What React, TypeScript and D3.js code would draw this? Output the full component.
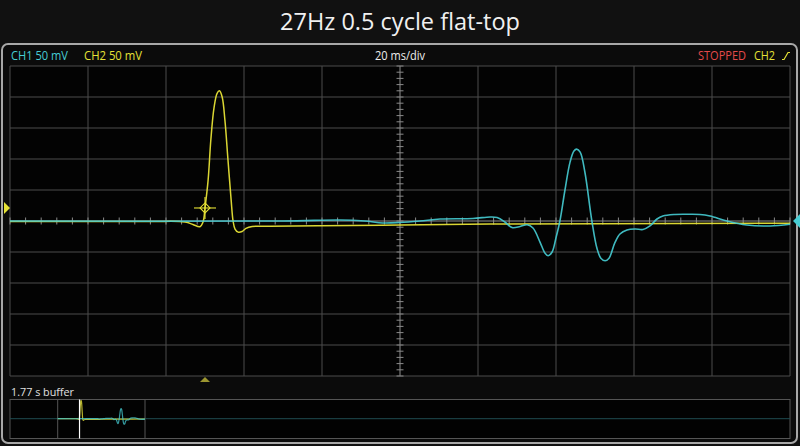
import React, { useEffect } from "react";
import * as d3 from "d3";

// ---- data (time in ms relative to screen centre, voltage in mV) ----
const ch2Time = [-100, -64.1, -55.1, -53.1, -51.3, -50.5, -50.0, -49.2, -48.5, -47.7, -46.9, -46.3, -45.6, -44.9, -44.1, -43.3, -42.8, -42.3, -41.5, -40.5, -39.5, -37.9, -33.3, -20.5, 0, 23.1, 51.3, 100];
const ch2Volt = [-0.8, -0.8, -1.6, -5.6, -9.2, -1.6, 21, 66, 131, 182, 206, 210, 200, 163, 98, 34, 0, -13, -18, -17, -12, -8.9, -8.4, -7.7, -6.5, -4.8, -4.5, -3.7];

const ch1Time = [-100, -30, -15.4, -9, -4.4, 0, 5.1, 10.3, 18.7, 23.1, 24.9, 26.9, 28.7, 30.8, 32.6, 34.1, 35.9, 37.2, 38, 39, 40, 41, 42.3, 43.6, 44.6, 45.3, 46.2, 47.4, 49.2, 50.5, 51.5, 52.6, 53.6, 55.1, 56.4, 58.2, 60.3, 62.3, 64.1, 65.9, 67.4, 70.5, 73.6, 76.9, 79.5, 83.8, 88.9, 94.9, 100];
const ch1Volt = [0, 0, 1.6, 0, -3.2, -2.4, 0, 3.2, 4, 6.5, 5.6, -1.6, -10.5, -8.9, -6, -11.3, -34, -52, -56, -50, -27, 0, 50, 95, 113, 116, 111, 79, 0, -44, -60, -64, -60, -35, -21, -14.5, -12.9, -13.7, -8, 3.2, 8, 10.5, 10.8, 10.5, 8, 0, -6.5, -8, -5.3];

const titleText = "27Hz 0.5 cycle flat-top";
const ch1Label = "CH1 50 mV";
const ch2Label = "CH2 50 mV";
const timebaseLabel = "20 ms/div";
const stateLabel = "STOPPED";
const trigLabel = "CH2";
const bufferLabel = "1.77 s buffer";
const triggerTime = -50;
const triggerLevel = 21;
const ch1Offset = 0;

const CYAN = "#46cdd4";
const YELLOW = "#e6e236";

export default function App() {
  useEffect(() => {
    document.body.style.margin = "0";
    document.body.style.background = "#111111";
  }, []);

  const x = d3.scaleLinear().domain([-100, 100]).range([10, 790]);
  const y = d3.scaleLinear().domain([-250, 250]).range([376, 66]);

  const bx = d3.scaleLinear().domain([-100, 100]).range([57.7, 145]);
  const by = d3.scaleLinear().domain([-250, 250]).range([418.7 + 21.7, 418.7 - 21.7]);

  const ch1 = ch1Time.map((t, i) => [t, ch1Volt[i]] as [number, number]);
  const ch2 = ch2Time.map((t, i) => [t, ch2Volt[i]] as [number, number]);

  const line = d3.line<[number, number]>().x(d => x(d[0])).y(d => y(d[1])).curve(d3.curveCatmullRom.alpha(0.5));
  const bline = d3.line<[number, number]>().x(d => bx(d[0])).y(d => by(d[1])).curve(d3.curveCatmullRom.alpha(0.5));

  const vGrid = d3.range(-100, 100.1, 20);
  const hGrid = d3.range(-250, 250.1, 50);
  const xMinor = d3.range(-100, 100.1, 4);
  const yMinor = d3.range(-250, 250.1, 10);

  const tx = x(triggerTime);
  const ty = y(triggerLevel);
  const ff = "'Open Sans', 'Noto Sans', sans-serif";

  return (
    <svg width={800} height={446} style={{ position: "absolute", left: 0, top: 0, display: "block" }}>
      <rect x={0} y={0} width={800} height={446} fill="#111111" />
      <text x={400} y={30} textAnchor="middle" fill="#f0f0f0" fontFamily={ff} fontSize={23} textLength={240} lengthAdjust="spacingAndGlyphs">{titleText}</text>

      {/* frame */}
      <rect x={2} y={44} width={795} height={399} rx={6} fill="#0b0b0b" stroke="#a8a8a8" strokeWidth={2} />

      {/* header */}
      <text x={11} y={60} fill={CYAN} fontFamily={ff} fontSize={12} textLength={57} lengthAdjust="spacingAndGlyphs">{ch1Label}</text>
      <text x={84} y={60} fill={YELLOW} fontFamily={ff} fontSize={12} textLength={58} lengthAdjust="spacingAndGlyphs">{ch2Label}</text>
      <text x={400} y={60} textAnchor="middle" fill="#eeeeee" fontFamily={ff} fontSize={12} textLength={50} lengthAdjust="spacingAndGlyphs">{timebaseLabel}</text>
      <text x={698} y={60} fill="#e44a4a" fontFamily={ff} fontSize={12} textLength={48} lengthAdjust="spacingAndGlyphs">{stateLabel}</text>
      <text x={754} y={60} fill={YELLOW} fontFamily={ff} fontSize={12} textLength={21} lengthAdjust="spacingAndGlyphs">{trigLabel}</text>
      <path d="M782,59.5 H784 L788,52.5 H790" fill="none" stroke={YELLOW} strokeWidth={1.2} />

      {/* plot area */}
      <rect x={10} y={66} width={780} height={310} fill="#030303" />
      {vGrid.map(t => (
        <line key={"v" + t} x1={x(t)} x2={x(t)} y1={66} y2={376} stroke="#4c4c4c" strokeWidth={1} />
      ))}
      {hGrid.map(v => (
        <line key={"h" + v} x1={10} x2={790} y1={y(v)} y2={y(v)} stroke="#4c4c4c" strokeWidth={1} />
      ))}
      <line x1={x(0)} x2={x(0)} y1={66} y2={376} stroke="#6a6a6a" strokeWidth={1} />
      <line x1={10} x2={790} y1={y(0)} y2={y(0)} stroke="#6a6a6a" strokeWidth={1} />
      {xMinor.map(t => (
        <line key={"xm" + t} x1={x(t)} x2={x(t)} y1={y(0) - 3.5} y2={y(0) + 3.5} stroke="#8a8a8a" strokeWidth={1} />
      ))}
      {yMinor.map(v => (
        <line key={"ym" + v} x1={x(0) - 3.5} x2={x(0) + 3.5} y1={y(v)} y2={y(v)} stroke="#8a8a8a" strokeWidth={1} />
      ))}

      {/* traces */}
      <path d={line(ch2) || ""} fill="none" stroke={YELLOW} strokeWidth={1.5} strokeOpacity={0.95} />
      <path d={line(ch1) || ""} fill="none" stroke={CYAN} strokeWidth={1.6} strokeOpacity={0.9} />

      {/* trigger point */}
      <g stroke={YELLOW} strokeWidth={1.1} fill="none">
        <line x1={tx - 11} x2={tx + 11} y1={ty} y2={ty} />
        <line x1={tx} x2={tx} y1={ty - 11} y2={ty + 11} />
        <path d={`M${tx},${ty - 5} L${tx + 5},${ty} L${tx},${ty + 5} L${tx - 5},${ty} Z`} />
      </g>

      {/* markers */}
      <path d={`M4,${ty - 6} L10,${ty} L4,${ty + 6} Z`} fill={YELLOW} />
      <path d={`M800,${y(ch1Offset) - 7} L793,${y(ch1Offset)} L800,${y(ch1Offset) + 7} Z`} fill={CYAN} />
      <path d={`M${tx},377 L${tx + 5},382 L${tx - 5},382 Z`} fill="#9c9630" />

      {/* buffer */}
      <text x={11} y={396} fill="#e0e0e0" fontFamily={ff} fontSize={11.5} textLength={63} lengthAdjust="spacingAndGlyphs">{bufferLabel}</text>
      <rect x={10} y={399.5} width={780} height={39} fill="#020202" stroke="#555555" strokeWidth={1} />
      <line x1={bx(-100)} x2={bx(-100)} y1={399.5} y2={438.5} stroke="#555555" />
      <line x1={bx(100)} x2={bx(100)} y1={399.5} y2={438.5} stroke="#555555" />
      <line x1={10} x2={790} y1={by(0)} y2={by(0)} stroke="#1f4c50" strokeWidth={1} />
      <path d={bline(ch2) || ""} fill="none" stroke={YELLOW} strokeWidth={1.2} strokeOpacity={0.8} />
      <path d={bline(ch1) || ""} fill="none" stroke={CYAN} strokeWidth={1.2} strokeOpacity={0.75} />
      <line x1={bx(triggerTime)} x2={bx(triggerTime)} y1={399.5} y2={438.5} stroke="#ffffff" strokeWidth={1.2} />
    </svg>
  );
}
